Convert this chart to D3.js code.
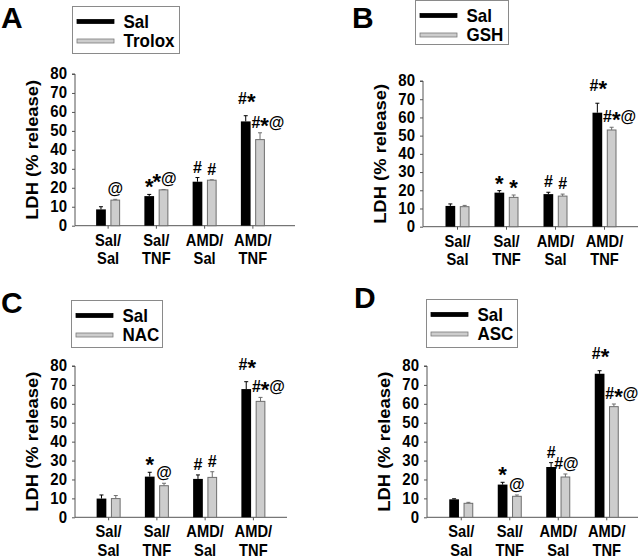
<!DOCTYPE html>
<html>
<head>
<meta charset="utf-8">
<script src="https://cdn.jsdelivr.net/npm/d3@7"></script>
<style>
  body { margin: 0; background: #fff; }
  svg { display: block; }
  text { font-family: "Liberation Sans", Arial, sans-serif; font-weight: bold; fill: #000; }
</style>
</head>
<body>
<svg id="chart" width="640" height="559"></svg>
<script>
// categories shared by all four panels
const categories = ["Sal/Sal", "Sal/TNF", "AMD/Sal", "AMD/TNF"];
const yTicks = [0, 10, 20, 30, 40, 50, 60, 70, 80];

// A: Sal vs Trolox
const salA = [8.6, 15.6, 23.2, 55.0];
const salErrA = [1.4, 0.9, 2.2, 3.0];
const troloxA = [13.5, 18.9, 24.0, 45.4];
const troloxErrA = [0.4, 0.2, 0.2, 3.6];
const salMarksA = ["", "*", "#", "#*"];
const troloxMarksA = ["@", "*@", "#", "#*@"];

// B: Sal vs GSH
const salB = [11.4, 18.7, 17.9, 62.6];
const salErrB = [1.1, 1.1, 1.0, 5.2];
const gshB = [11.0, 16.1, 16.8, 53.1];
const gshErrB = [0.7, 1.3, 1.1, 1.5];
const salMarksB = ["", "*", "#", "#*"];
const gshMarksB = ["", "*", "#", "#*@"];

// C: Sal vs NAC
const salC = [9.9, 21.5, 20.3, 67.8];
const salErrC = [1.9, 2.3, 2.1, 3.9];
const nacC = [9.9, 16.7, 21.1, 61.3];
const nacErrC = [1.6, 1.3, 3.0, 2.1];
const salMarksC = ["", "*", "#", "#*"];
const nacMarksC = ["", "@", "#", "#*@"];

// D: Sal vs ASC
const salD = [9.5, 17.3, 26.6, 75.9];
const salErrD = [0.3, 1.2, 2.3, 1.6];
const ascD = [7.4, 11.1, 21.3, 58.5];
const ascErrD = [0.5, 0.7, 1.6, 1.4];
const salMarksD = ["", "*", "#", "#*"];
const ascMarksD = ["", "@", "#@", "#*@"];

const panels = [
  { letter: "A", drug: "Trolox", sal: salA, salErr: salErrA, trt: troloxA, trtErr: troloxErrA, salMarks: salMarksA, trtMarks: troloxMarksA,
    axisX: 75, y0: 225.7, y80: 74, band: [84, 277], axisEnd: 295,
    legend: { x: 72.5, y: 6.5, w: 107, h: 47 }, letterPos: [1, 28] },
  { letter: "B", drug: "GSH", sal: salB, salErr: salErrB, trt: gshB, trtErr: gshErrB, salMarks: salMarksB, trtMarks: gshMarksB,
    axisX: 423, y0: 226.7, y80: 81, band: [433, 629], axisEnd: 638,
    legend: { x: 415.5, y: 0.5, w: 93, h: 44 }, letterPos: [352, 28] },
  { letter: "C", drug: "NAC", sal: salC, salErr: salErrC, trt: nacC, trtErr: nacErrC, salMarks: salMarksC, trtMarks: nacMarksC,
    axisX: 75, y0: 517.3, y80: 366, band: [84.5, 277.5], axisEnd: 287,
    legend: { x: 71.5, y: 300.5, w: 91, h: 47 }, letterPos: [1, 313] },
  { letter: "D", drug: "ASC", sal: salD, salErr: salErrD, trt: ascD, trtErr: ascErrD, salMarks: salMarksD, trtMarks: ascMarksD,
    axisX: 427, y0: 517.3, y80: 366, band: [437, 631], axisEnd: 638,
    legend: { x: 426.5, y: 299.5, w: 91, h: 48 }, letterPos: [354, 308] }
];

const svg = d3.select("#chart");
const stretch = 1.15; // the figure text is a bit taller than it is wide

panels.forEach(drawPanel);

function drawPanel(p) {
  const g = svg.append("g");

  const y = d3.scaleLinear().domain([0, 80]).range([p.y0, p.y80]);
  const x = d3.scaleBand().domain(categories).range(p.band);
  const xs = d3.scaleBand().domain(["sal", "trt"]).range([-12, 12]).paddingInner(0.32);
  const mid = c => x(c) + x.bandwidth() / 2;

  // panel letter
  g.append("text")
    .attr("x", p.letterPos[0])
    .attr("y", p.letterPos[1])
    .style("font-size", "30px")
    .text(p.letter);

  // legend
  const lg = g.append("g");
  lg.append("rect")
    .attr("x", p.legend.x).attr("y", p.legend.y)
    .attr("width", p.legend.w).attr("height", p.legend.h)
    .attr("fill", "#fff").attr("stroke", "#8a8a8a");
  const rows = [{ name: "Sal", fill: "#000", stroke: "#000" }, { name: p.drug, fill: "#cdcdcd", stroke: "#7a7a7a" }];
  rows.forEach((r, i) => {
    const cy = p.legend.y + 15 + i * 19.5;
    lg.append("rect")
      .attr("x", p.legend.x + 4.5).attr("y", cy - 2)
      .attr("width", 37).attr("height", 4)
      .attr("fill", r.fill).attr("stroke", r.stroke).attr("stroke-width", 0.8);
    lg.append("text")
      .attr("transform", `translate(${p.legend.x + 51},${cy + 6}) scale(1,1.08)`)
      .style("font-size", "17px")
      .text(r.name);
  });

  // y axis
  const yAxis = g.append("g")
    .attr("transform", `translate(${p.axisX},0)`)
    .call(d3.axisLeft(y).tickValues(yTicks).tickSize(3).tickPadding(5));
  yAxis.select(".domain").attr("stroke", "#555").attr("d", `M-3,${p.y80}H0V${p.y0}`);
  yAxis.selectAll(".tick line").attr("stroke", "#555");
  yAxis.selectAll(".tick text")
    .style("font-size", "15px")
    .style("font-family", "'Liberation Sans', Arial, sans-serif")
    .style("font-weight", "bold")
    .attr("fill", "#000")
    .attr("transform", `scale(1,${stretch})`)
    .attr("dy", "0.28em");

  // x axis line with small ticks at category centres
  g.append("line")
    .attr("x1", p.axisX).attr("x2", p.axisEnd)
    .attr("y1", p.y0).attr("y2", p.y0)
    .attr("stroke", "#555");
  g.selectAll(".xtick")
    .data(categories)
    .enter()
    .append("line")
    .attr("x1", mid).attr("x2", mid)
    .attr("y1", p.y0).attr("y2", p.y0 + 3)
    .attr("stroke", "#555");

  // y title
  const tx = p.axisX - 37;
  const ty = (p.y0 + p.y80) / 2;
  g.append("text")
    .attr("transform", `translate(${tx},${ty}) scale(1,${stretch}) rotate(-90)`)
    .attr("text-anchor", "middle")
    .style("font-size", "16px")
    .text("LDH (% release)");

  // category labels on two lines
  [0, 1].forEach(line => {
    g.selectAll(".cat" + line)
      .data(categories)
      .enter()
      .append("text")
      .attr("transform", d => `translate(${mid(d)},${p.y0 + (line === 0 ? 20 : 38.2)}) scale(1.05,1.12)`)
      .attr("text-anchor", "middle")
      .style("font-size", "14px")
      .text(d => line === 0 ? d.split("/")[0] + "/" : d.split("/")[1]);
  });

  // bars
  const series = [
    { key: "sal", vals: p.sal, errs: p.salErr, marks: p.salMarks, fill: "#000", stroke: "#000", errColor: "#000" },
    { key: "trt", vals: p.trt, errs: p.trtErr, marks: p.trtMarks, fill: "#cdcdcd", stroke: "#6e6e6e", errColor: "#6e6e6e" }
  ];

  series.forEach(s => {
    const rows = categories.map((c, i) => ({ cat: c, i: i, v: s.vals[i], e: s.errs[i], m: s.marks[i] }));
    const cx = d => mid(d.cat) + xs(s.key) + xs.bandwidth() / 2;

    const bg = g.append("g");
    // error bars
    bg.selectAll(".err")
      .data(rows)
      .enter()
      .append("path")
      .attr("d", d => `M${cx(d)},${y(d.v)}V${y(d.v + d.e)}M${cx(d) - 2},${y(d.v + d.e)}H${cx(d) + 2}`)
      .attr("stroke", s.errColor)
      .attr("fill", "none");

    bg.selectAll(".bar")
      .data(rows)
      .enter()
      .append("rect")
      .attr("x", d => mid(d.cat) + xs(s.key) + (s.key === "trt" ? 0.5 : 0))
      .attr("y", d => y(d.v))
      .attr("width", xs.bandwidth() - (s.key === "trt" ? 1 : 0))
      .attr("height", d => y(0) - y(d.v))
      .attr("fill", s.fill)
      .attr("stroke", s.key === "trt" ? s.stroke : "none");

    // significance marks
    const side = d => s.key === "trt" && d.i === 3;
    const mk = bg.selectAll(".mark")
      .data(rows.filter(d => d.m !== ""))
      .enter()
      .append("text")
      .attr("text-anchor", d => side(d) ? "start" : "middle")
      .attr("x", d => side(d) ? mid(d.cat) - 1.5 : cx(d) + (d.m.length > 1 ? 1 : 0))
      .attr("y", d => y(d.v + d.e) - ((s.key === "sal" && d.i === 3) ? 12 : 5))
      .style("font-size", "16px");
    mk.each(function (d) {
      const t = d3.select(this);
      let shifted = false;
      d.m.split("").forEach(ch => {
        const sp = t.append("tspan").text(ch);
        if (ch === "*") {
          sp.style("font-size", "22px").attr("dy", 5);
          shifted = true;
        } else if (shifted) {
          sp.attr("dy", -5);
          shifted = false;
        }
      });
    });
  });
}
</script>
</body>
</html>
